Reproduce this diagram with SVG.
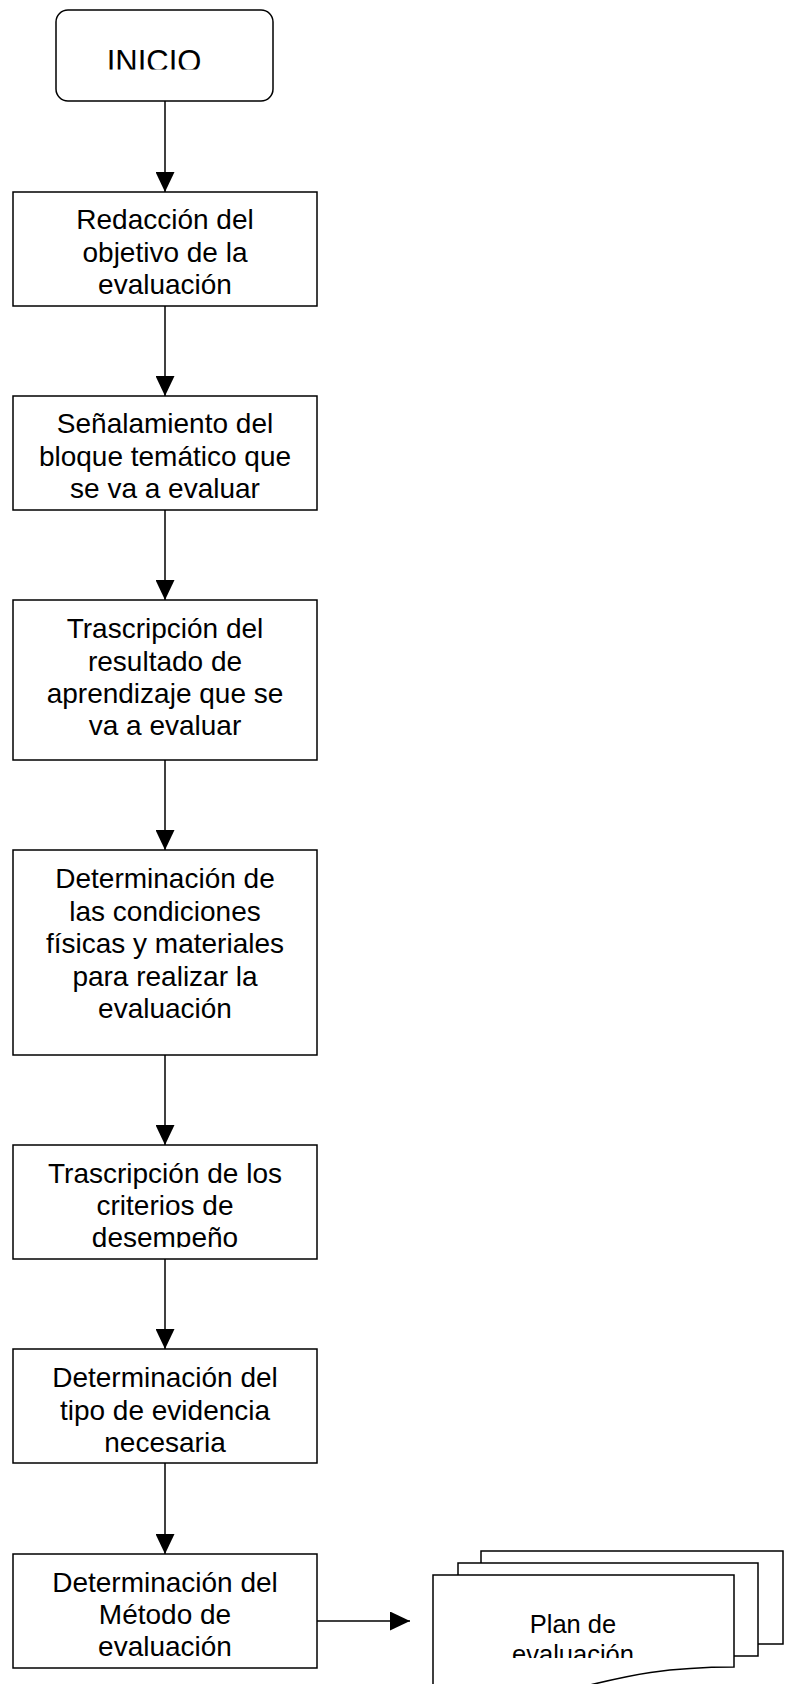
<svg xmlns="http://www.w3.org/2000/svg" width="785" height="1684" viewBox="0 0 785 1684">
<style>
.box{fill:#fff;stroke:#000;stroke-width:1.5}
.doc{fill:#fff;stroke:#000;stroke-width:1.5;stroke-linejoin:miter}
.lbl{font-family:"Liberation Sans",Arial,sans-serif;font-size:28px;fill:#000;text-anchor:middle}
.conn{stroke:#000;stroke-width:1.5;fill:none;marker-end:url(#ah)}
</style>
<defs>
<marker id="ah" markerUnits="userSpaceOnUse" markerWidth="20" markerHeight="19" refX="20" refY="9.5" orient="auto">
<path d="M0,0 L20,9.5 L0,19 Z" fill="#000"/>
</marker>
<clipPath id="clipInicio"><rect x="56" y="10" width="217" height="59.5"/></clipPath>
<clipPath id="clipB5"><rect x="13" y="1145" width="304" height="102.5"/></clipPath>
<clipPath id="clipPlan"><rect x="433" y="1575" width="301" height="83"/></clipPath>
</defs>
<rect width="785" height="1684" fill="#fff"/>
<g id="connectors">
<line class="conn" x1="165" y1="101" x2="165" y2="192"/>
<line class="conn" x1="165" y1="306" x2="165" y2="396"/>
<line class="conn" x1="165" y1="510" x2="165" y2="600"/>
<line class="conn" x1="165" y1="760" x2="165" y2="850"/>
<line class="conn" x1="165" y1="1055" x2="165" y2="1145"/>
<line class="conn" x1="165" y1="1259" x2="165" y2="1349"/>
<line class="conn" x1="165" y1="1463" x2="165" y2="1554"/>
<line class="conn" x1="317" y1="1621" x2="410" y2="1621"/>
</g>
<g id="inicio">
<rect class="box" x="56" y="10" width="217" height="91" rx="12" ry="12"/>
<text class="lbl" x="154" y="71.5" style="font-size:31px" clip-path="url(#clipInicio)">INICIO</text>
</g>
<g id="n1">
<rect class="box" x="13" y="192" width="304" height="114"/>
<text class="lbl" x="165" y="229">Redacción del</text>
<text class="lbl" x="165" y="261.5">objetivo de la</text>
<text class="lbl" x="165" y="293.5">evaluación</text>
</g>
<g id="n2">
<rect class="box" x="13" y="396" width="304" height="114"/>
<text class="lbl" x="165" y="433.3">Señalamiento del</text>
<text class="lbl" x="165" y="465.7">bloque temático que</text>
<text class="lbl" x="165" y="498.3">se va a evaluar</text>
</g>
<g id="n3">
<rect class="box" x="13" y="600" width="304" height="160"/>
<text class="lbl" x="165" y="638.3">Trascripción del</text>
<text class="lbl" x="165" y="670.7">resultado de</text>
<text class="lbl" x="165" y="703">aprendizaje que se</text>
<text class="lbl" x="165" y="735.3">va a evaluar</text>
</g>
<g id="n4">
<rect class="box" x="13" y="850" width="304" height="205"/>
<text class="lbl" x="165" y="888">Determinación de</text>
<text class="lbl" x="165" y="920.5">las condiciones</text>
<text class="lbl" x="165" y="953">físicas y materiales</text>
<text class="lbl" x="165" y="985.5">para realizar la</text>
<text class="lbl" x="165" y="1018">evaluación</text>
</g>
<g id="n5">
<rect class="box" x="13" y="1145" width="304" height="114"/>
<g clip-path="url(#clipB5)">
<text class="lbl" x="165" y="1182.5">Trascripción de los</text>
<text class="lbl" x="165" y="1215">criterios de</text>
<text class="lbl" x="165" y="1246.5">desempeño</text>
</g>
</g>
<g id="n6">
<rect class="box" x="13" y="1349" width="304" height="114"/>
<text class="lbl" x="165" y="1387">Determinación del</text>
<text class="lbl" x="165" y="1419.5">tipo de evidencia</text>
<text class="lbl" x="165" y="1452">necesaria</text>
</g>
<g id="n7">
<rect class="box" x="13" y="1554" width="304" height="114"/>
<text class="lbl" x="165" y="1591.5">Determinación del</text>
<text class="lbl" x="165" y="1623.5">Método de</text>
<text class="lbl" x="165" y="1656">evaluación</text>
</g>
<g id="plan">
<path class="doc" d="M481,1551 H783 V1644 H700 L481,1600 Z"/>
<path class="doc" d="M458,1563 H758 V1656 H650 L458,1610 Z"/>
<path class="doc" d="M433,1575 H734 V1667 C583,1667 583,1710 433,1695 Z"/>
<g clip-path="url(#clipPlan)">
<text class="lbl" x="573" y="1633" style="font-size:25.5px">Plan de</text>
<text class="lbl" x="573" y="1662.5" style="font-size:25.5px">evaluación</text>
</g>
</g>
</svg>
